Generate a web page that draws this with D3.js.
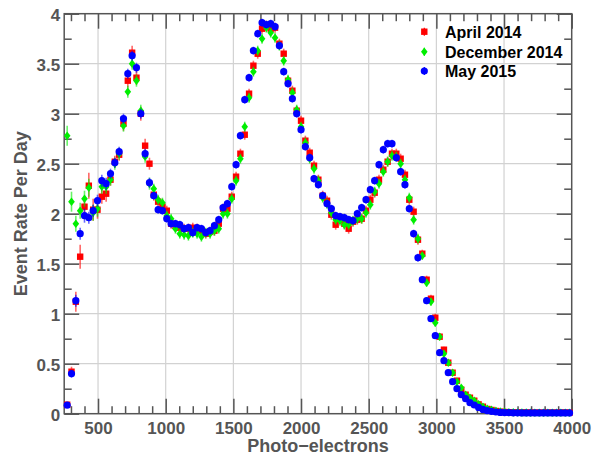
<!DOCTYPE html>
<html><head><meta charset="utf-8">
<script src="https://cdn.jsdelivr.net/npm/d3@7"></script>
<style>
html,body{margin:0;padding:0;background:#fff;}
svg{display:block;font-family:"Liberation Sans",Arial,Helvetica,sans-serif;}
</style></head>
<body><svg id="c" width="600" height="456"></svg>
<script>
// ---- data ----
const bins = [272,304,336,368,400,432,464,496,528,560,
592,624,656,688,720,752,784,816,848,880,
912,944,976,1008,1040,1072,1104,1136,1168,1200,
1232,1264,1296,1328,1360,1392,1424,1456,1488,1520,
1552,1584,1616,1648,1680,1712,1744,1776,1808,1840,
1872,1904,1936,1968,2000,2032,2064,2096,2128,2160,
2192,2224,2256,2288,2320,2352,2384,2416,2448,2480,
2512,2544,2576,2608,2640,2672,2704,2736,2768,2800,
2832,2864,2896,2928,2960,2992,3024,3056,3088,3120,
3152,3184,3216,3248,3280,3312,3344,3376,3408,3440,
3472,3504,3536,3568,3600,3632,3664,3696,3728,3760,
3792,3824,3856,3888,3920,3952,3984];

const april2014 = [0.09,0.42,1.12,1.57,2.07,2.28,2.04,2.04,2.17,2.20,
2.34,2.52,2.59,2.90,3.33,3.61,3.36,3.00,2.68,2.50,
2.19,2.12,2.07,2.03,1.90,1.88,1.86,1.85,1.85,1.86,
1.85,1.83,1.80,1.82,1.83,1.90,2.05,2.05,2.17,2.37,
2.60,2.79,3.20,3.48,3.60,3.85,3.88,3.85,3.86,3.70,
3.60,3.33,3.23,3.03,2.93,2.73,2.61,2.48,2.34,2.18,
2.13,1.99,1.89,1.95,1.90,1.85,1.92,1.94,1.95,2.03,
2.14,2.21,2.34,2.44,2.52,2.60,2.60,2.55,2.39,2.14,
2.02,1.74,1.60,1.34,1.15,0.96,0.77,0.64,0.51,0.41,
0.33,0.24,0.19,0.16,0.13,0.093,0.07,0.047,0.037,0.027,
0.02,0.017,0.015,0.013,0.012,0.012,0.011,0.011,0.010,0.010,
0.010,0.010,0.011,0.010,0.010,0.011,0.010];
const april2014Err = [0.03,0.05,0.10,0.12,0.08,0.13,0.11,0.09,0.07,0.08,
0.06,0.06,0.06,0.07,0.07,0.07,0.07,0.07,0.07,0.06,
0.06,0.05,0.05,0.05,0.05,0.05,0.05,0.05,0.05,0.05,
0.05,0.05,0.05,0.05,0.05,0.05,0.05,0.05,0.05,0.05,
0.05,0.05,0.05,0.05,0.05,0.05,0.05,0.05,0.05,0.05,
0.05,0.05,0.05,0.05,0.05,0.05,0.05,0.05,0.05,0.05,
0.05,0.05,0.05,0.05,0.05,0.05,0.05,0.05,0.05,0.05,
0.05,0.05,0.05,0.05,0.05,0.05,0.05,0.05,0.05,0.05,
0.05,0.05,0.04,0.04,0.04,0.04,0.035,0.03,0.03,0.03,
0.025,0.02,0.02,0.015,0.015,0.012,0.01,0.008,0.007,0.006,
0.005,0.005,0.005,0.005,0.005,0.005,0.005,0.005,0.005,0.005,
0.005,0.005,0.005,0.005,0.005,0.005,0.005];

const december2014 = [2.78,2.12,1.90,2.03,2.15,2.26,2.01,2.05,2.27,2.27,
2.34,2.50,2.60,2.88,3.22,3.50,3.33,3.03,2.57,2.30,
2.25,2.14,2.11,1.98,1.95,1.85,1.80,1.79,1.78,1.81,
1.80,1.77,1.81,1.80,1.83,1.85,2.00,2.00,2.15,2.33,
2.55,2.87,3.16,3.42,3.63,3.75,3.86,3.81,3.76,3.68,
3.53,3.34,3.21,3.04,2.87,2.71,2.55,2.45,2.33,2.16,
2.10,2.01,1.94,1.93,1.89,1.89,1.93,1.95,1.95,2.01,
2.09,2.22,2.30,2.42,2.52,2.58,2.57,2.50,2.34,2.16,
1.94,1.75,1.58,1.31,1.12,0.91,0.77,0.60,0.51,0.41,
0.32,0.26,0.19,0.16,0.13,0.095,0.07,0.05,0.038,0.028,
0.022,0.018,0.015,0.013,0.012,0.011,0.011,0.010,0.010,0.010,
0.010,0.009,0.010,0.010,0.009,0.010,0.010];
const december2014Err = [0.10,0.10,0.08,0.08,0.08,0.09,0.08,0.08,0.07,0.07,
0.06,0.06,0.06,0.06,0.06,0.06,0.06,0.06,0.06,0.06,
0.05,0.05,0.05,0.05,0.05,0.05,0.05,0.05,0.05,0.05,
0.05,0.05,0.05,0.05,0.05,0.05,0.05,0.05,0.05,0.05,
0.05,0.05,0.05,0.05,0.05,0.05,0.05,0.05,0.05,0.05,
0.05,0.05,0.05,0.05,0.05,0.05,0.05,0.05,0.05,0.05,
0.05,0.05,0.05,0.05,0.05,0.05,0.05,0.05,0.05,0.05,
0.05,0.05,0.05,0.05,0.05,0.05,0.05,0.05,0.05,0.05,
0.05,0.05,0.04,0.04,0.04,0.04,0.035,0.03,0.03,0.03,
0.025,0.02,0.02,0.015,0.015,0.012,0.01,0.008,0.007,0.006,
0.005,0.005,0.005,0.005,0.005,0.005,0.005,0.005,0.005,0.005,
0.005,0.005,0.005,0.005,0.005,0.005,0.005];

const may2015 = [0.085,0.40,1.13,1.80,1.98,1.96,2.03,2.13,2.33,2.30,
2.40,2.51,2.62,2.95,3.40,3.58,3.46,3.00,2.60,2.31,
2.18,2.04,2.03,1.95,1.90,1.90,1.89,1.85,1.86,1.81,
1.86,1.85,1.81,1.83,1.88,1.94,2.06,2.10,2.27,2.49,
2.78,3.14,3.36,3.63,3.80,3.91,3.89,3.90,3.87,3.68,
3.42,3.30,3.15,3.00,2.84,2.67,2.56,2.35,2.29,2.18,
2.10,2.05,1.98,1.97,1.96,1.94,1.93,2.00,2.06,2.14,
2.24,2.33,2.49,2.64,2.70,2.70,2.56,2.42,2.29,2.05,
1.80,1.56,1.34,1.13,0.95,0.78,0.61,0.53,0.41,0.32,
0.25,0.19,0.15,0.11,0.087,0.063,0.043,0.03,0.024,0.017,
0.013,0.011,0.010,0.009,0.009,0.008,0.008,0.008,0.008,0.008,
0.008,0.008,0.008,0.008,0.008,0.008,0.008];
const may2015Err = [0.02,0.04,0.06,0.06,0.07,0.06,0.06,0.06,0.06,0.06,
0.05,0.05,0.05,0.05,0.05,0.05,0.05,0.05,0.05,0.05,
0.04,0.04,0.04,0.04,0.04,0.04,0.04,0.04,0.04,0.04,
0.04,0.04,0.04,0.04,0.04,0.04,0.04,0.04,0.04,0.04,
0.04,0.04,0.04,0.04,0.04,0.04,0.04,0.04,0.04,0.04,
0.04,0.04,0.04,0.04,0.04,0.04,0.04,0.04,0.04,0.04,
0.04,0.04,0.04,0.04,0.04,0.04,0.04,0.04,0.04,0.04,
0.04,0.04,0.04,0.04,0.04,0.04,0.04,0.04,0.04,0.04,
0.04,0.04,0.035,0.035,0.03,0.03,0.03,0.025,0.025,0.02,
0.02,0.015,0.015,0.012,0.01,0.01,0.008,0.006,0.005,0.005,
0.004,0.004,0.004,0.004,0.004,0.004,0.004,0.004,0.004,0.004,
0.004,0.004,0.004,0.004,0.004,0.004,0.004];

const seriesNames = ["April 2014","December 2014","May 2015"];
const xMajorTicks = [500,1000,1500,2000,2500,3000,3500,4000];
const xTickLabels = ["500","1000","1500","2000","2500","3000","3500","4000"];
const yMajorTicks = [0,0.5,1,1.5,2,2.5,3,3.5,4];
const yTickLabels = ["0","0.5","1","1.5","2","2.5","3","3.5","4"];
const xMinorTicks = [300,400,600,700,800,900,1100,1200,1300,1400,1600,1700,1800,1900,2100,2200,2300,2400,2600,2700,2800,2900,3100,3200,3300,3400,3600,3700,3800,3900];
const yMinorTicks = [0.25,0.75,1.25,1.75,2.25,2.75,3.25,3.75];

// ---- layout ----
const L = 64.2, R = 571.7, T = 13.7, B = 413.7;
const axisCol = "#555";
const svg = d3.select("#c");
const x = d3.scaleLinear().domain([250,4000]).range([L,R]);
const y = d3.scaleLinear().domain([0,4]).range([B,T]);

// grid
const grid = svg.append("g").attr("stroke","#d2d2d2").attr("stroke-width",1.2);
grid.selectAll("line.v").data(xMajorTicks.filter(d=>d<4000)).enter().append("line")
  .attr("x1",d=>x(d)).attr("x2",d=>x(d)).attr("y1",T).attr("y2",B);
grid.selectAll("line.h").data(yMajorTicks.filter(d=>d>0&&d<4)).enter().append("line")
  .attr("x1",L).attr("x2",R).attr("y1",d=>y(d)).attr("y2",d=>y(d));

function styleAxis(g){
  g.select(".domain").remove();
  g.selectAll(".tick line").attr("stroke",axisCol).attr("stroke-width",1.5);
  g.selectAll(".tick text").attr("fill",axisCol).attr("font-size","17px").attr("font-weight","bold");
}
// bottom
svg.append("g").attr("transform",`translate(0,${B})`)
  .call(d3.axisBottom(x).tickValues(xMajorTicks).tickSize(-15).tickPadding(8).tickFormat((d,i)=>xTickLabels[i])).call(styleAxis);
svg.append("g").attr("transform",`translate(0,${B})`)
  .call(d3.axisBottom(x).tickValues(xMinorTicks).tickSize(-7.5).tickFormat("")).call(styleAxis);
// top
svg.append("g").attr("transform",`translate(0,${T})`)
  .call(d3.axisTop(x).tickValues(xMajorTicks).tickSize(-15).tickFormat("")).call(styleAxis);
svg.append("g").attr("transform",`translate(0,${T})`)
  .call(d3.axisTop(x).tickValues(xMinorTicks).tickSize(-7.5).tickFormat("")).call(styleAxis);
// left
svg.append("g").attr("transform",`translate(${L},0)`)
  .call(d3.axisLeft(y).tickValues(yMajorTicks).tickSize(-15).tickPadding(4).tickFormat((d,i)=>yTickLabels[i])).call(styleAxis)
  .selectAll(".tick text").attr("dy","0.4em");
svg.append("g").attr("transform",`translate(${L},0)`)
  .call(d3.axisLeft(y).tickValues(yMinorTicks).tickSize(-7.5).tickFormat("")).call(styleAxis);
// right
svg.append("g").attr("transform",`translate(${R},0)`)
  .call(d3.axisRight(y).tickValues(yMajorTicks).tickSize(-15).tickFormat("")).call(styleAxis);
svg.append("g").attr("transform",`translate(${R},0)`)
  .call(d3.axisRight(y).tickValues(yMinorTicks).tickSize(-7.5).tickFormat("")).call(styleAxis);

// frame
svg.append("rect").attr("x",L).attr("y",T).attr("width",R-L).attr("height",B-T)
  .attr("fill","none").attr("stroke",axisCol).attr("stroke-width",1.5);

// titles
svg.append("text").attr("x",(L+R)/2).attr("y",452).attr("text-anchor","middle")
  .attr("font-size","18px").attr("font-weight","bold").attr("fill",axisCol).text("Photo\u2212electrons");
svg.append("text").attr("transform",`translate(26.5,${(T+B)/2}) rotate(-90)`).attr("text-anchor","middle")
  .attr("font-size","18px").attr("font-weight","bold").attr("fill",axisCol).text("Event Rate Per Day");

// markers
const shapes = {
  square: (g,cx,cy,col)=>g.append("rect").attr("x",cx-3.2).attr("y",cy-3.2).attr("width",6.4).attr("height",6.4).attr("fill",col),
  diamond: (g,cx,cy,col)=>g.append("path").attr("d",`M${cx},${cy-4.3}L${cx+3.3},${cy}L${cx},${cy+4.3}L${cx-3.3},${cy}Z`).attr("fill",col),
  circle: (g,cx,cy,col)=>g.append("circle").attr("cx",cx).attr("cy",cy).attr("r",3.6).attr("fill",col)
};
const series = [
  {name:seriesNames[0], vals:april2014, errs:april2014Err, col:"#ff0000", shape:"square"},
  {name:seriesNames[1], vals:december2014, errs:december2014Err, col:"#00ee00", shape:"diamond"},
  {name:seriesNames[2], vals:may2015, errs:may2015Err, col:"#0000ff", shape:"circle"}
];
series.forEach(s=>{
  const g = svg.append("g");
  g.selectAll("line").data(bins).enter().append("line")
    .attr("x1",d=>x(d)).attr("x2",d=>x(d))
    .attr("y1",(d,i)=>y(Math.max(0,s.vals[i]-s.errs[i])))
    .attr("y2",(d,i)=>y(s.vals[i]+s.errs[i]))
    .attr("stroke",s.col).attr("stroke-opacity",0.6).attr("stroke-width",1.6);
  bins.forEach((b,i)=>shapes[s.shape](g,x(b),y(s.vals[i]),s.col));
});

// legend
const legY = [31.7,51.7,71];
series.forEach((s,i)=>{
  const g = svg.append("g");
  g.append("line").attr("x1",424.3).attr("x2",424.3).attr("y1",legY[i]-4).attr("y2",legY[i]+4)
    .attr("stroke",s.col).attr("stroke-width",1.2);
  shapes[s.shape](g,424.3,legY[i],s.col);
  g.append("text").attr("x",445).attr("y",legY[i]+5.8).attr("font-size","16px").attr("font-weight","bold")
    .attr("fill","#000").text(s.name);
});
</script></body></html>
